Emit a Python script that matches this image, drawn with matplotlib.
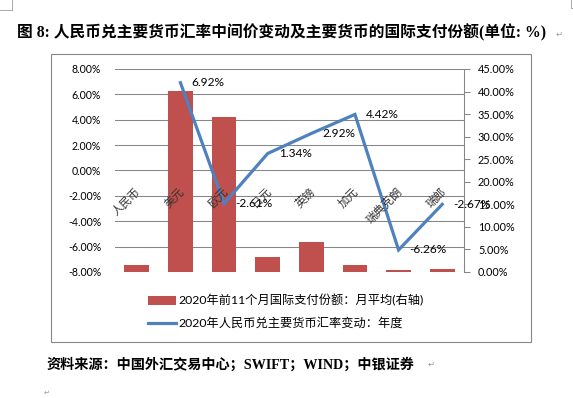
import numpy as np
import matplotlib.pyplot as plt
from matplotlib.lines import Line2D
from matplotlib.patches import Rectangle, Patch
from matplotlib.ticker import FuncFormatter

plt.rcParams['font.family'] = ['Lato', 'Noto Sans CJK SC', 'DejaVu Sans']

# --- data ---
categories = ['人民币', '美元', '欧元', '日元', '英镑', '加元', '瑞典克朗', '瑞郎']
pay_share = [1.6, 40.1, 34.4, 3.3, 6.6, 1.6, 0.5, 0.7]            # right axis, %
fx_change = [np.nan, 6.92, -2.61, 1.34, 2.92, 4.42, -6.26, -2.67]  # left axis, %
left_ticks = [-8, -6, -4, -2, 0, 2, 4, 6, 8]
right_ticks = [0, 5, 10, 15, 20, 25, 30, 35, 40, 45]

bar_label = '2020年前11个月国际支付份额：月平均(右轴)'
line_label = '2020年人民币兑主要货币汇率变动：年度'
title = '图 8: 人民币兑主要货币汇率中间价变动及主要货币的国际支付份额(单位: %)'
source = '资料来源：中国外汇交易中心；SWIFT；WIND；中银证券'

red = '#C0504D'
blue = '#4F81BD'
grid_gray = '#868686'

W, H = 573, 398
fig = plt.figure(figsize=(W / 100, H / 100), dpi=100)

# chart border box
fig.add_artist(Rectangle((51 / W, 1 - 342 / H), 480 / W, 288 / H,
                         transform=fig.transFigure, fill=False,
                         edgecolor=grid_gray, linewidth=0.8))

pos = [115 / W, 1 - 272 / H, 349 / W, 203 / H]
x = np.arange(len(categories))

# base axes: left scale + gridlines
ax = fig.add_axes(pos)
ax.set_ylim(-8, 8)
ax.set_xlim(-0.5, len(categories) - 0.5)
ax.set_yticks(left_ticks)
ax.yaxis.set_major_formatter(FuncFormatter(lambda v, p: f'{v:.2f}%'))
ax.tick_params(axis='y', length=0, pad=10, labelsize=7.6)
ax.set_xticks([])
ax.grid(axis='y', color=grid_gray, linewidth=0.75)
for s in ax.spines.values():
    s.set_visible(False)

# bars on right scale
ax2 = ax.twinx()
ax2.bar(x, pay_share, width=0.57, color=red, zorder=2)
ax2.set_ylim(0, 45)
ax2.set_yticks(right_ticks)
ax2.yaxis.set_major_formatter(FuncFormatter(lambda v, p: f'{v:.2f}%'))
ax2.tick_params(axis='y', length=4, width=0.75, color=grid_gray, pad=6, labelsize=7.8)
for k, s in ax2.spines.items():
    s.set_visible(k == 'right')
ax2.spines['right'].set_color(grid_gray)
ax2.spines['right'].set_linewidth(0.75)

# line on left scale, on top
ax3 = ax.twinx()
ax3.set_ylim(-8, 8)
ax3.set_yticks([])
for s in ax3.spines.values():
    s.set_visible(False)
ax3.plot(x, fx_change, color=blue, linewidth=2.3, solid_joinstyle='miter')
for xi, v in zip(x, fx_change):
    if not np.isnan(v):
        ax3.annotate(f'{v:.2f}%', (xi, v), xytext=(8, 0), textcoords='offset points',
                     va='center', ha='left', fontsize=8.6)

# category labels along the zero line
for xi, c in zip(x, categories):
    ax3.text(xi + 0.04, -1.5, c, rotation=45, rotation_mode='anchor',
             ha='right', va='center', fontsize=8.2, color='#333333')

# legend
handles = [Patch(facecolor=red, edgecolor='none'),
           Line2D([], [], color=blue, linewidth=2.3)]
fig.legend(handles, [bar_label, line_label], loc='upper left',
           bbox_to_anchor=(142 / W, 1 - 288 / H), frameon=False,
           fontsize=8.8, handlelength=2.3, handletextpad=0.15,
           labelspacing=0.9, borderpad=0)

# title and source
fig.text(17 / W, 1 - 33 / H, title, fontsize=11.3, fontweight='bold',
         family=['Liberation Serif', 'Noto Sans CJK SC'], va='center', ha='left')
fig.text(556 / W, 1 - 34 / H, '↵', fontsize=6, color='#999999', va='center',
         family=['DejaVu Sans'])
fig.text(47 / W, 1 - 365 / H, source, fontsize=10.2, fontweight='bold',
         family=['Liberation Serif', 'Noto Sans CJK SC'], va='center', ha='left')
fig.text(428 / W, 1 - 364 / H, '↵', fontsize=6, color='#999999', va='center',
         family=['DejaVu Sans'])
fig.text(44 / W, 1 - 393 / H, '↵', fontsize=5, color='#999999', va='center',
         family=['DejaVu Sans'])

# page corner marks
for xs, ys in [([12, 12], [0, 10]), ([0, 12], [10, 10]),
               ([571, 571], [0, 8]), ([571, 573], [8, 8])]:
    fig.add_artist(Line2D([v / W for v in xs], [1 - v / H for v in ys],
                          transform=fig.transFigure, color='#aaaaaa', linewidth=0.7))

fig.savefig('out.png', dpi=100)
